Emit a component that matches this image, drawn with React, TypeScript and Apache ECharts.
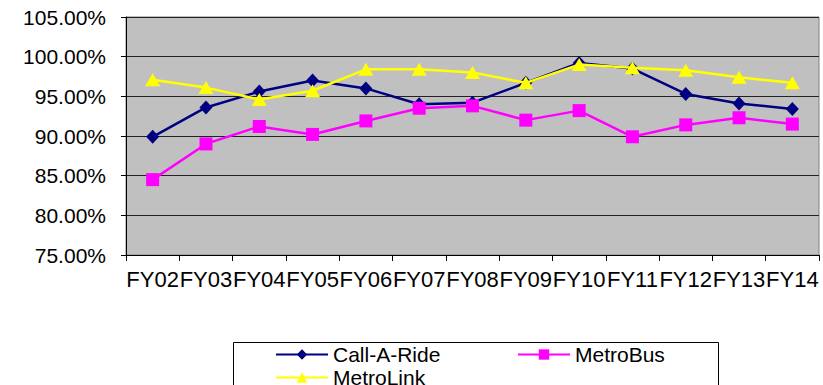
import React, { useEffect, useRef } from "react";
import * as echarts from "echarts";

const years = ["FY02", "FY03", "FY04", "FY05", "FY06", "FY07", "FY08", "FY09", "FY10", "FY11", "FY12", "FY13", "FY14"];
const callARide = [89.9, 93.6, 95.6, 97.0, 96.0, 94.0, 94.2, 96.7, 99.2, 98.5, 95.3, 94.1, 93.4];
const metroBus = [84.5, 89.0, 91.2, 90.2, 91.9, 93.5, 93.8, 92.0, 93.2, 89.9, 91.4, 92.3, 91.5];
const metroLink = [97.1, 96.1, 94.6, 95.7, 98.4, 98.4, 98.0, 96.7, 99.0, 98.6, 98.3, 97.4, 96.7];
const yTicks = { min: 75, max: 105, step: 5 };

const FONT = "Liberation Sans, Arial, sans-serif";

export default function App() {
  const ref = useRef<HTMLDivElement>(null);

  useEffect(() => {
    if (!ref.current) return;
    const chart = echarts.init(ref.current, null, { renderer: "svg" });

    const legendText = { fontFamily: FONT, fontSize: 21, color: "#000" };
    const legendBase = {
      orient: "horizontal",
      itemWidth: 52,
      itemHeight: 13,
      itemGap: 0,
      textStyle: legendText,
      selectedMode: false,
      padding: 0,
    };

    chart.setOption({
      animation: false,
      backgroundColor: "#fff",
      grid: {
        left: 126,
        right: 4,
        top: 17,
        bottom: 130,
        show: true,
        backgroundColor: "#C0C0C0",
        borderColor: "#808080",
        borderWidth: 1,
      },
      graphic: [
        {
          type: "rect",
          shape: { x: 233.5, y: 342.5, width: 485, height: 60 },
          style: { fill: "#fff", stroke: "#000", lineWidth: 1 },
          z: 0,
        },
      ],
      legend: [
        { ...legendBase, left: 275, top: 344, data: ["Call-A-Ride"] },
        { ...legendBase, left: 517, top: 344, data: ["MetroBus"] },
        { ...legendBase, left: 275, top: 367, data: ["MetroLink"] },
      ],
      xAxis: {
        type: "category",
        data: years,
        boundaryGap: true,
        axisLine: { show: true, lineStyle: { color: "#000", width: 1 } },
        axisTick: { show: true, length: 6, alignWithLabel: false, lineStyle: { color: "#000" } },
        axisLabel: { fontFamily: FONT, fontSize: 22, color: "#000", margin: 13, interval: 0 },
        splitLine: { show: false },
      },
      yAxis: {
        type: "value",
        min: yTicks.min,
        max: yTicks.max,
        interval: yTicks.step,
        axisLine: { show: true, lineStyle: { color: "#000", width: 1 } },
        axisTick: { show: true, length: 5, inside: false, lineStyle: { color: "#000" } },
        axisLabel: {
          fontFamily: FONT,
          fontSize: 21,
          color: "#000",
          margin: 20,
          formatter: (v: number) => v.toFixed(2) + "%",
        },
        splitLine: { show: true, lineStyle: { color: "#222", width: 1 } },
      },
      series: [
        {
          name: "Call-A-Ride",
          type: "line",
          data: callARide,
          symbol: "diamond",
          symbolSize: [13, 14],
          itemStyle: { color: "#000080" },
          lineStyle: { color: "#000080", width: 2.5 },
          z: 3,
        },
        {
          name: "MetroBus",
          type: "line",
          data: metroBus,
          symbol: "rect",
          symbolSize: 13,
          itemStyle: { color: "#FF00FF" },
          lineStyle: { color: "#FF00FF", width: 2.5 },
          z: 4,
        },
        {
          name: "MetroLink",
          type: "line",
          data: metroLink,
          symbol: "triangle",
          symbolSize: [15, 13],
          itemStyle: { color: "#FFFF00" },
          lineStyle: { color: "#FFFF00", width: 2.5 },
          z: 5,
        },
      ],
    });

    return () => chart.dispose();
  }, []);

  return <div ref={ref} style={{ width: 823, height: 385, position: "absolute", left: 0, top: 0 }} />;
}
